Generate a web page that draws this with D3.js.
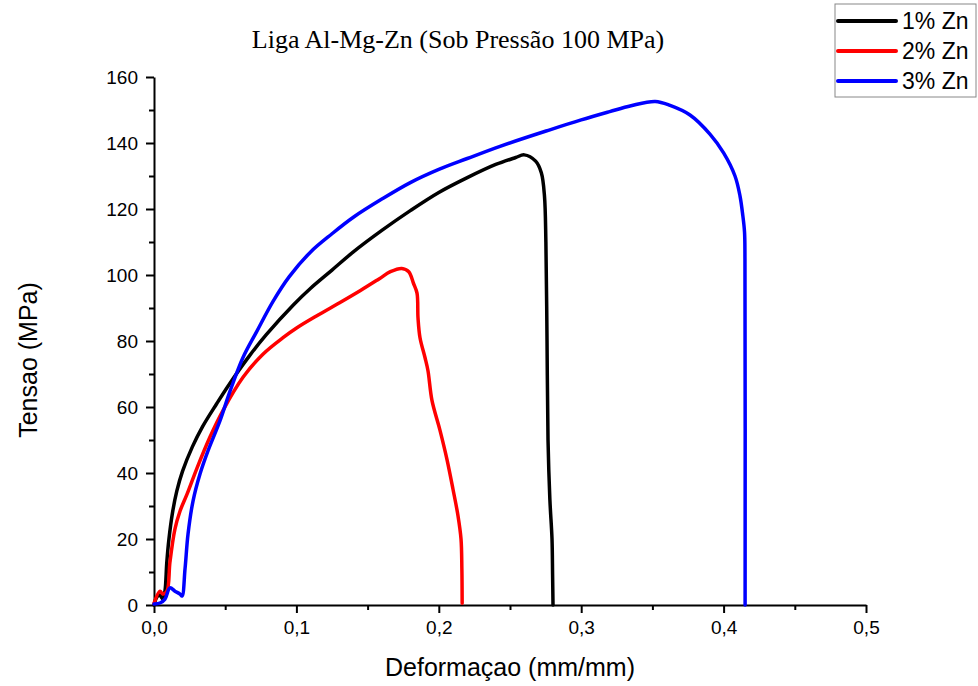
<!DOCTYPE html>
<html>
<head>
<meta charset="utf-8">
<script src="https://cdn.jsdelivr.net/npm/d3@7"></script>
<style>
  body { margin: 0; background: #fff; }
  svg { display: block; }
</style>
</head>
<body>
<div id="chart"></div>
<script>
// strain (mm/mm) and stress (MPa)
const zn1_strain = [0, 0.002, 0.004, 0.0063, 0.0077, 0.009, 0.0105, 0.013, 0.016, 0.020, 0.027, 0.034, 0.044, 0.053, 0.067, 0.079, 0.098, 0.11, 0.125, 0.14, 0.16, 0.18, 0.2, 0.22, 0.24, 0.254, 0.26, 0.268, 0.272, 0.2742, 0.2752, 0.276, 0.2767, 0.278, 0.2795, 0.2799, 0.2802];
const zn1_stress = [0, 2.4, 3, 1.8, 4.2, 13, 20, 28, 34.5, 40.5, 48, 54, 61, 67, 75.5, 82, 91, 96, 101.5, 107, 113.5, 119.5, 125, 129.5, 133.5, 135.6, 136.4, 134.5, 131, 124, 110, 80, 50, 32, 20, 9.4, 0];

const zn2_strain = [0, 0.0042, 0.0063, 0.0091, 0.0112, 0.0147, 0.0183, 0.0232, 0.0302, 0.0393, 0.0485, 0.0625, 0.0765, 0.0906, 0.1004, 0.115, 0.13, 0.145, 0.158, 0.166, 0.174, 0.1789, 0.1822, 0.1847, 0.1854, 0.1868, 0.1903, 0.1924, 0.1952, 0.2008, 0.2058, 0.21, 0.2135, 0.2156, 0.2162, 0.2164];
const zn2_stress = [0.5, 4.2, 3.3, 4.2, 13, 23, 28.5, 33.6, 41.5, 50.9, 59, 69, 76, 81, 84, 87.8, 91.5, 95.3, 98.8, 101, 102, 101, 97.5, 94.5, 87, 81, 75, 71, 62, 53, 44, 35, 27, 20, 11, 0.5];

const zn3_strain = [0, 0.0042, 0.0077, 0.0112, 0.0147, 0.0183, 0.0197, 0.0218, 0.0239, 0.0274, 0.0323, 0.0379, 0.0463, 0.0534, 0.0625, 0.0723, 0.0836, 0.095, 0.11, 0.125, 0.14, 0.16, 0.18, 0.2, 0.22, 0.243, 0.278, 0.3, 0.32, 0.335, 0.352, 0.3624, 0.3764, 0.3904, 0.4, 0.408, 0.4115, 0.4135, 0.4147, 0.415, 0.4151];
const zn3_stress = [0.3, 0.6, 1.8, 5.2, 4.2, 3.3, 2.7, 11, 21.5, 31.5, 39.7, 46.7, 55.8, 64.8, 75, 83, 92, 99.5, 107, 112.5, 117.5, 123, 128, 132, 135.3, 139, 144, 147, 149.5, 151.3, 152.6, 151.4, 148.5, 142.7, 137, 130, 124, 118, 113, 105, 0];

const series_names = ["1% Zn", "2% Zn", "3% Zn"];
const series_colors = ["#000000", "#ff0000", "#0000ff"];
const x_ticks = [0, 0.1, 0.2, 0.3, 0.4, 0.5];
const y_ticks = [0, 20, 40, 60, 80, 100, 120, 140, 160];

const series = [
  { name: series_names[0], color: series_colors[0], pts: zn1_strain.map((d, i) => ({ x: d, y: zn1_stress[i] })) },
  { name: series_names[1], color: series_colors[1], pts: zn2_strain.map((d, i) => ({ x: d, y: zn2_stress[i] })) },
  { name: series_names[2], color: series_colors[2], pts: zn3_strain.map((d, i) => ({ x: d, y: zn3_stress[i] })) }
];

const W = 978, H = 686;
const margin = { top: 77, right: 112, bottom: 81, left: 154 };
const width = W - margin.left - margin.right,
      height = H - margin.top - margin.bottom;

const svg = d3.select("#chart").append("svg")
  .attr("width", W)
  .attr("height", H);

const g = svg.append("g")
  .attr("transform", `translate(${margin.left},${margin.top})`);

const x = d3.scaleLinear().domain([0, 0.5]).range([0, width]);
const y = d3.scaleLinear().domain([0, 160]).range([height, 0]);

const comma = v => d3.format(".1f")(v).replace(".", ",");

// minor ticks first
g.append("g")
  .attr("transform", `translate(0,${height})`)
  .call(d3.axisBottom(x).tickValues(d3.range(0.05, 0.5, 0.1)).tickSize(5).tickFormat(""))
  .call(a => a.select(".domain").remove())
  .selectAll("line").attr("stroke-width", 2);

g.append("g")
  .call(d3.axisLeft(y).tickValues(d3.range(10, 160, 20)).tickSize(5).tickFormat(""))
  .call(a => a.select(".domain").remove())
  .selectAll("line").attr("stroke-width", 2);

// major axes
const xAxis = g.append("g")
  .attr("transform", `translate(0,${height})`)
  .call(d3.axisBottom(x).tickValues(x_ticks).tickSize(8).tickSizeOuter(0).tickPadding(8).tickFormat(comma));

const yAxis = g.append("g")
  .call(d3.axisLeft(y).tickValues(y_ticks).tickSize(8).tickSizeOuter(0).tickPadding(8));

[xAxis, yAxis].forEach(a => {
  a.select(".domain").attr("stroke-width", 2);
  a.selectAll(".tick line").attr("stroke-width", 2);
  a.selectAll(".tick text")
    .attr("font-family", "Liberation Sans, Arial, sans-serif")
    .attr("font-size", 19)
    .attr("fill", "#000");
});

// curves
const line = d3.line()
  .curve(d3.curveCatmullRom.alpha(0.5))
  .x(d => x(d.x))
  .y(d => y(d.y));

g.selectAll(".curve")
  .data(series)
  .join("path")
  .attr("class", "curve")
  .attr("d", d => line(d.pts))
  .attr("fill", "none")
  .attr("stroke", d => d.color)
  .attr("stroke-width", 3.5)
  .attr("stroke-linejoin", "round")
  .attr("stroke-linecap", "round");

// title and axis labels
svg.append("text")
  .attr("x", 458)
  .attr("y", 48)
  .attr("text-anchor", "middle")
  .attr("font-family", "Liberation Serif, Times New Roman, serif")
  .attr("font-size", 26)
  .text("Liga Al-Mg-Zn (Sob Pressão 100 MPa)");

svg.append("text")
  .attr("x", margin.left + width / 2)
  .attr("y", 676)
  .attr("text-anchor", "middle")
  .attr("font-family", "Liberation Sans, Arial, sans-serif")
  .attr("font-size", 25)
  .text("Deformaçao (mm/mm)");

svg.append("text")
  .attr("transform", "translate(37,360) rotate(-90)")
  .attr("text-anchor", "middle")
  .attr("font-family", "Liberation Sans, Arial, sans-serif")
  .attr("font-size", 25)
  .text("Tensao (MPa)");

// legend
const legend = svg.append("g").attr("transform", "translate(835,4)");
legend.append("rect")
  .attr("width", 141).attr("height", 93)
  .attr("fill", "#fff").attr("stroke", "#888").attr("stroke-width", 1);

const item = legend.selectAll(".item")
  .data(series)
  .join("g")
  .attr("class", "item")
  .attr("transform", (d, i) => `translate(0,${17 + i * 30})`);

item.append("line")
  .attr("x1", 3).attr("x2", 61)
  .attr("stroke", d => d.color)
  .attr("stroke-width", 4)
  .attr("stroke-linecap", "round");

item.append("text")
  .attr("x", 67).attr("y", 8)
  .attr("font-family", "Liberation Sans, Arial, sans-serif")
  .attr("font-size", 23)
  .text(d => d.name);
</script>
</body>
</html>
